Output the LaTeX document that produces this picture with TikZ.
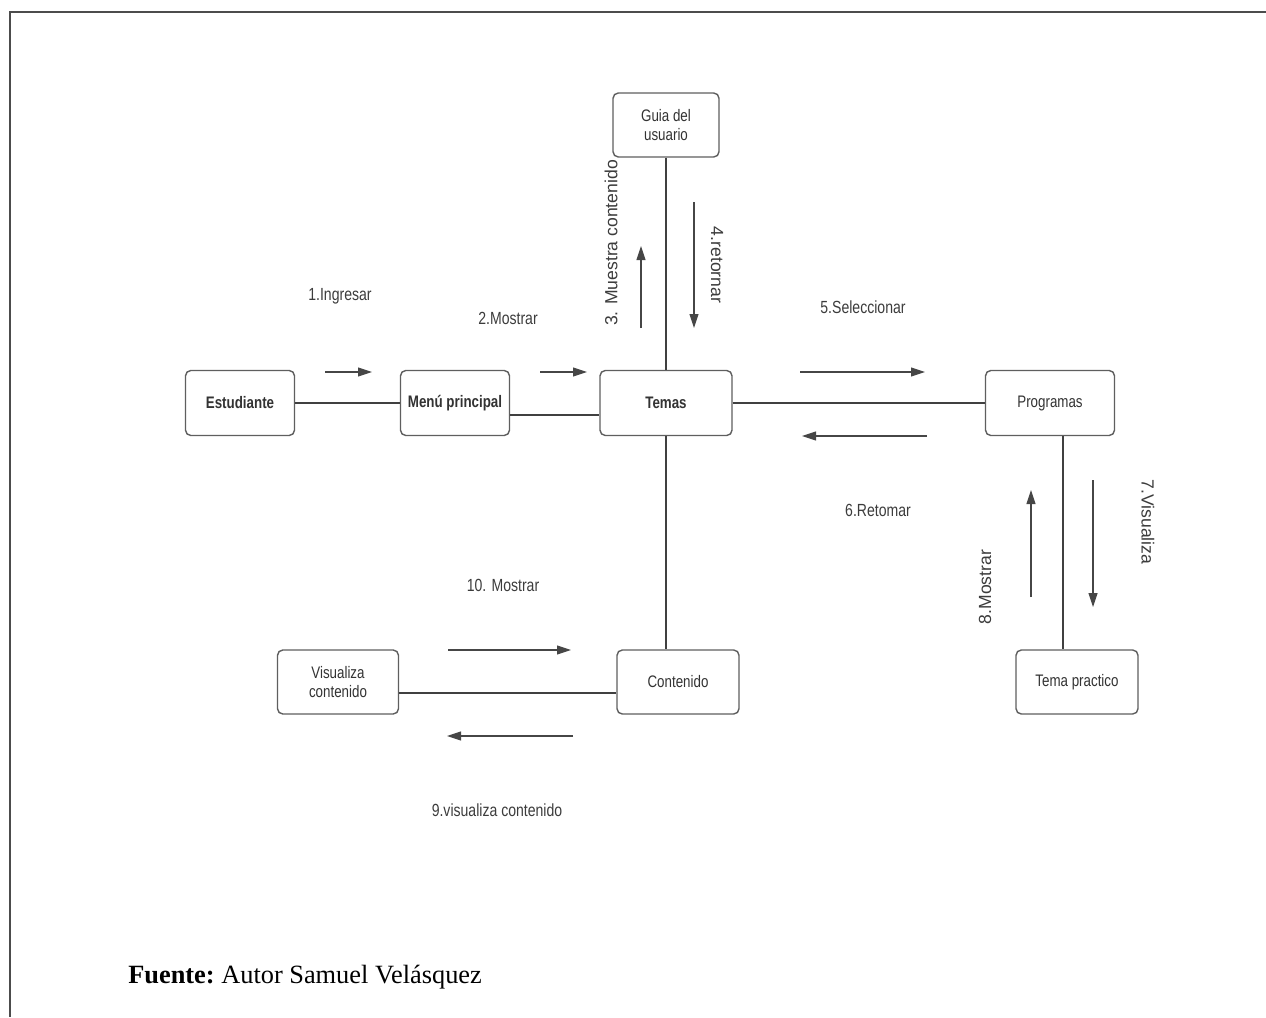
\documentclass[tikz,border=0pt]{standalone}
\usepackage{fontspec}
\setmainfont{Liberation Serif}
\newfontfamily\diafont[FakeStretch=0.8]{Liberation Sans}
\newfontfamily\rotfont{Liberation Sans}
\usepackage{xcolor}
\definecolor{boxline}{RGB}{95,95,95}
\definecolor{msgline}{RGB}{70,70,70}
\definecolor{labtext}{RGB}{60,60,60}
\usepackage{tikz}
\usetikzlibrary{arrows.meta}

\begin{document}
\begin{tikzpicture}[x=0.02cm,y=-0.02cm,
obj/.style={draw=boxline,line width=0.8pt,rounded corners=3pt,fill=white,align=center,minimum height=1.3cm,minimum width=2.18cm,inner sep=1pt,font=\diafont\fontsize{9.5}{11}\selectfont,text=black!80},
objb/.style={obj,font=\diafont\bfseries\fontsize{9.5}{11}\selectfont},
link/.style={draw=black!75,line width=0.8pt},
msg/.style={-{Triangle[length=2.8mm,width=1.8mm]},draw=msgline,line width=0.6pt},
lab/.style={font=\diafont\fontsize{10}{12}\selectfont,text=labtext,inner sep=1pt},
vlab/.style={font=\rotfont\fontsize{10}{12}\selectfont,text=labtext,inner sep=1pt}]
\useasboundingbox (0,0) rectangle (1266,1017);
\draw[draw=black!70,line width=1pt] (1266,12) -- (10,12) -- (10,1017);
% objetos
\node[objb] (est)  at (240,403) {Estudiante};
\node[objb] (menu) at (455,403) {Menú principal};
\node[objb,minimum width=2.64cm] (temas) at (666,403) {Temas};
\node[obj,minimum width=2.12cm,minimum height=1.28cm] (guia) at (666,125) {Guia del\\usuario};
\node[obj,minimum width=2.58cm] (prog) at (1050,403) {Programas};
\node[obj,minimum width=2.44cm,minimum height=1.28cm] (tp) at (1077,682) {Tema practico};
\node[obj,minimum width=2.44cm,minimum height=1.28cm] (cont) at (678,682) {Contenido};
\node[obj,minimum width=2.42cm,minimum height=1.28cm] (vis) at (338,682) {Visualiza\\contenido};
% enlaces
\draw[link] (est) -- (menu);
\draw[link] ([yshift=-0.24cm]menu.east) -- ([yshift=-0.24cm]temas.west);
\draw[link] (guia) -- (temas);
\draw[link] (temas) -- (prog);
\draw[link] (temas.south) -- (temas.south |- cont.north);
\draw[link] ([xshift=0.26cm]prog.south) -- ([xshift=0.26cm]prog.south |- tp.north);
\draw[link] ([yshift=-0.22cm]vis.east) -- ([yshift=-0.22cm]vis.east -| cont.west);
% mensajes
\coordinate (m1a) at (325,372); \coordinate (m1b) at (372,372);
\coordinate (m2a) at (540,372); \coordinate (m2b) at (587,372);
\coordinate (m3a) at (641,328); \coordinate (m3b) at (641,246);
\coordinate (m4a) at (694,202); \coordinate (m4b) at (694,328);
\coordinate (m5a) at (800,372); \coordinate (m5b) at (925,372);
\coordinate (m6a) at (927,436); \coordinate (m6b) at (802,436);
\coordinate (m7a) at (1093,480); \coordinate (m7b) at (1093,607);
\coordinate (m8a) at (1031,597); \coordinate (m8b) at (1031,490);
\coordinate (m9a) at (573,736); \coordinate (m9b) at (447,736);
\coordinate (m10a) at (448,650); \coordinate (m10b) at (571,650);
\draw[msg] (m1a) -- (m1b); \draw[msg] (m2a) -- (m2b);
\draw[msg] (m3a) -- (m3b); \draw[msg] (m4a) -- (m4b);
\draw[msg] (m5a) -- (m5b); \draw[msg] (m6a) -- (m6b);
\draw[msg] (m7a) -- (m7b); \draw[msg] (m8a) -- (m8b);
\draw[msg] (m9a) -- (m9b); \draw[msg] (m10a) -- (m10b);
\node[lab] (l1) at (340,296) {1.Ingresar};
\node[lab] (l2) at (508,318) {2.Mostrar};
\node[vlab,rotate=90] (l3) at (611,243) {3. Muestra contenido};
\node[vlab,rotate=-90] (l4) at (717,265) {4.retornar};
\node[lab] (l5) at (863,307) {5.Seleccionar};
\node[lab] (l6) at (878,510) {6.Retomar};
\node[vlab,rotate=-90] (l7) at (1148,522) {7.Visualiza};
\node[vlab,rotate=90] (l8) at (985,587) {8.Mostrar};
\node[lab] (l9) at (497,810) {9.visualiza contenido};
\node[lab] (l10) at (503,585) {10. Mostrar};
\node[anchor=west,font=\fontsize{15}{17}\selectfont,inner sep=0pt] (fuente) at (128,977) {\textbf{Fuente:}\ Autor Samuel Velásquez};
\end{tikzpicture}
\end{document}
